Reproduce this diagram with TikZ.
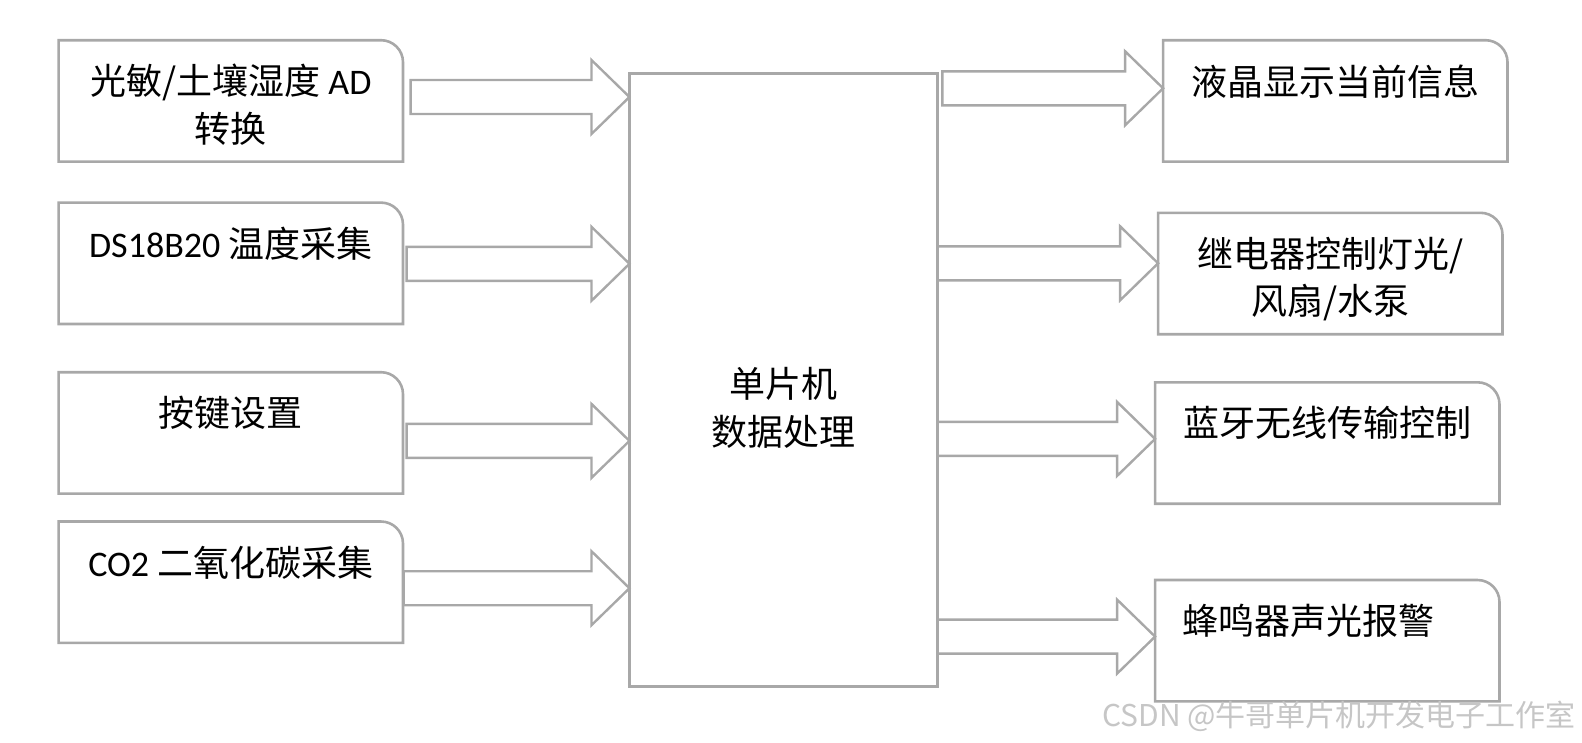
\documentclass[tikz,border=0pt]{standalone}
\usepackage{fontspec}
\setmainfont{Carlito}
\newfontfamily\cjk{Noto Sans CJK SC}[Scale=1.0]
\usetikzlibrary{calc}
\tikzset{
  box/.style={minimum width=344pt,minimum height=121pt,inner sep=0pt},
  frame/.style={gray!68,line width=2.6pt},
  lbl/.style={anchor=north,align=center,inner sep=0pt,font=\fontsize{36}{47.5}\selectfont},
  fat/.style={gray!68,line width=2.4pt,line join=miter}
}
\newcommand\fatarrow[2]{\draw[fat]($(#1)+(0,-17)$)--($(#2)+(-38,-17)$)--($(#2)+(-38,-37)$)--(#2)--($(#2)+(-38,37)$)--($(#2)+(-38,17)$)--($(#1)+(0,17)$)--cycle;}

\begin{document}
\begin{tikzpicture}[x=1pt,y=-1pt]
\useasboundingbox(0,0)rectangle(1582,742);
% inputs
\node[box](l1)at(230.8,100.9){};\node[box](l2)at(230.8,263.3){};
\node[box](l3)at(230.8,432.9){};\node[box](l4)at(230.8,582.2){};
% controller
\node[inner sep=0pt,minimum width=307.7pt,minimum height=612.4pt](mcu)at(783.5,379.9){};
\draw[frame](mcu.south west)rectangle(mcu.north east);
% outputs
\node[box](r1)at(1335.3,100.9){};\node[box](r2)at(1330.3,273.5){};
\node[box](r3)at(1327.3,443){};\node[box](r4)at(1327.3,640.7){};
\foreach \b in {l1,l2,l3,l4,r1,r2,r3,r4}
  \draw[frame](\b.south west)|-([xshift=-22pt]\b.north east)arc[start angle=90,end angle=0,radius=22pt]--(\b.south east)--cycle;
% labels
\node[lbl](tl1)at([yshift=-24pt]l1.north){{\cjk 光敏/土壤湿度} AD\\{\cjk 转换}};
\node[lbl](tl2)at([yshift=-24pt]l2.north){DS18B20 {\cjk 温度采集}};
\node[lbl](tl3)at([yshift=-24pt]l3.north){\cjk 按键设置};
\node[lbl](tl4)at([yshift=-24pt]l4.north){CO2 {\cjk 二氧化碳采集}};
\node[lbl,anchor=center](tm)at([yshift=-28pt]mcu.center){\cjk 单片机\\\cjk 数据处理};
\node[lbl](tr1)at([yshift=-24pt]r1.north){\cjk 液晶显示当前信息};
\node[lbl](tr2)at([yshift=-24pt]r2.north){\cjk 继电器控制灯光/\\\cjk 风扇/水泵};
\node[lbl](tr3)at([yshift=-24pt]r3.north){\cjk 蓝牙无线传输控制};
\node[lbl](tr4)at([xshift=-19pt,yshift=-24pt]r4.north){\cjk 蜂鸣器声光报警};
% arrows
\coordinate(a1)at(410.6,97);\coordinate(a2)at(406.6,263.8);
\coordinate(a3)at(406.6,440.9);\coordinate(a4)at(403.6,588.2);
\coordinate(b1)at(942.3,88.3);\coordinate(b2)at(937.3,263.3);
\coordinate(b3)at(937.3,438.9);\coordinate(b4)at(937.3,636.6);
\fatarrow{a1}{mcu.west|-a1}\fatarrow{a2}{mcu.west|-a2}
\fatarrow{a3}{mcu.west|-a3}\fatarrow{a4}{mcu.west|-a4}
\fatarrow{b1}{r1.west|-b1}\fatarrow{b2}{r2.west|-b2}
\fatarrow{b3}{r3.west|-b3}\fatarrow{b4}{r4.west|-b4}
\node[anchor=east,text=gray!45,inner sep=0pt,font=\cjk\fontsize{30}{32}\selectfont](wm)at(1576,716){CSDN @牛哥单片机开发电子工作室};
\end{tikzpicture}
\end{document}
